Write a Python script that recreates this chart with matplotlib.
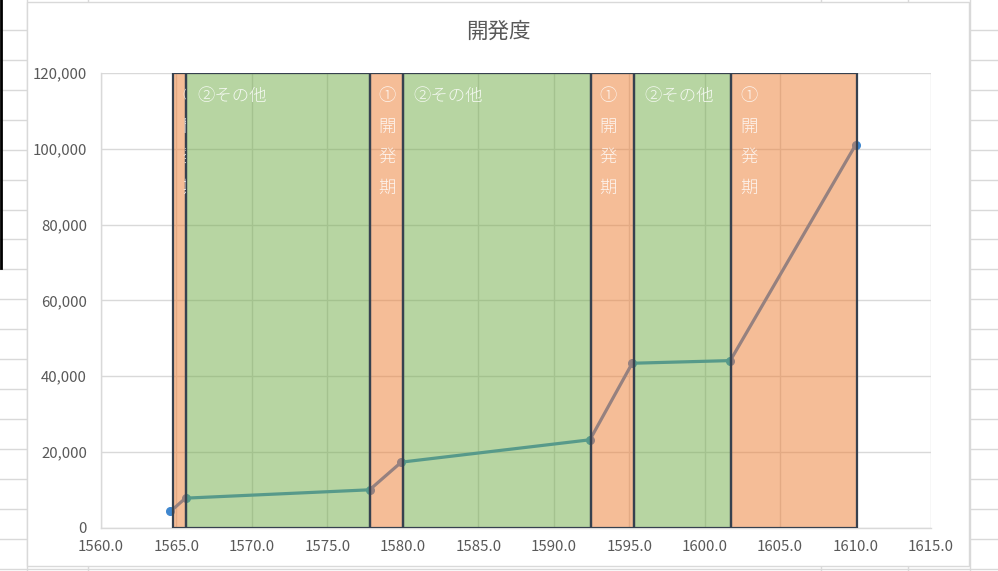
import numpy as np
import matplotlib.pyplot as plt
from matplotlib.patches import Rectangle

plt.rcParams['font.family'] = ['Noto Sans CJK JP', 'DejaVu Sans']

# line data (year, value)
years = [1564.6, 1565.6, 1577.8, 1579.9, 1592.4, 1595.2, 1601.7, 1610.0]
values = [4300, 7800, 10000, 17300, 23200, 43400, 44100, 101000]

# background bands: edges in years and their kind
band_edges = [1564.8, 1565.65, 1577.8, 1580.0, 1592.45, 1595.3, 1601.75, 1610.1]
band_kind = ["dev", "other", "dev", "other", "dev", "other", "dev"]
band_top = 120000

title = "開発度"
dev_label = ["①", "開", "発", "期"]
other_label = "②その他"

W, H = 998, 571
DPI = 100

ORANGE = "#ED7D31"
GREEN = "#70AD47"
BLUE = "#3F87CF"
EDGE = "#36414F"
GRID = "#D9D9D9"
TXT = "#595959"

fig = plt.figure(figsize=(W / DPI, H / DPI), dpi=DPI)

# spreadsheet backdrop in pixel coords
bg = fig.add_axes([0, 0, 1, 1])
bg.set_xlim(0, W)
bg.set_ylim(H, 0)
bg.axis("off")
for k in range(1, 20):
    bg.plot([0, W], [k * 29.93, k * 29.93], color=GRID, lw=1.0, zorder=1)
for x in [27, 88, 820.7, 908.3, 970.5]:
    bg.plot([x, x], [0, H], color=GRID, lw=1.0, zorder=1)
bg.plot([1, 1], [0, 268], color="black", lw=2.0, zorder=1)
bg.add_patch(Rectangle((27.5, 1.5), 942, 564, facecolor="white", edgecolor=GRID,
                       lw=1.0, zorder=3))
bg.text(498, 32, title, ha="center", va="center", fontsize=15.5, color=TXT, zorder=4)

# plot area
x0, x1, ytop, ybot = 101, 931, 73, 527.7
ax = fig.add_axes([x0 / W, 1 - ybot / H, (x1 - x0) / W, (ybot - ytop) / H])
ax.set_xlim(1560, 1615)
ax.set_ylim(0, 120000)
ax.set_xticks(np.arange(1560, 1616, 5))
ax.set_yticks(np.arange(0, 120001, 20000))
ax.set_xticklabels([f"{v:.1f}" for v in np.arange(1560, 1616, 5)])
ax.set_yticklabels([f"{v:,}" for v in range(0, 120001, 20000)])
ax.tick_params(length=0, colors=TXT, labelsize=10.8)
ax.tick_params(axis="x", pad=9)
ax.tick_params(axis="y", pad=10)
ax.grid(True, color=GRID, lw=1.0)
ax.set_axisbelow(True)
for s in ["top", "right"]:
    ax.spines[s].set_visible(False)
for s in ["left", "bottom"]:
    ax.spines[s].set_color(GRID)
    ax.spines[s].set_linewidth(1.0)

ax.plot(years, values, color=BLUE, lw=2.3, marker="o", ms=5.5, zorder=2, clip_on=False)

for i, kind in enumerate(band_kind):
    left, right = band_edges[i], band_edges[i + 1]
    color = ORANGE if kind == "dev" else GREEN
    fill = Rectangle((left, 0), right - left, band_top, facecolor=color, alpha=0.5,
                     edgecolor="none", zorder=3)
    ax.add_patch(fill)
    border = Rectangle((left, 0), right - left, band_top, facecolor="none",
                       edgecolor=EDGE, lw=1.6, zorder=4)
    ax.add_patch(border)
    if kind == "dev":
        for j, ch in enumerate(dev_label):
            t = ax.annotate(ch, xy=(left, band_top), xytext=(9, -23 - 30.5 * j),
                            textcoords="offset pixels", ha="left", va="center",
                            fontsize=12.5, fontweight="light", color="white",
                            alpha=0.85, zorder=5)
            t.set_clip_path(fill)
    else:
        t = ax.annotate(other_label, xy=(left, band_top), xytext=(11, -23),
                        textcoords="offset pixels", ha="left", va="center",
                        fontsize=12.5, fontweight="light", color="white",
                        alpha=0.85, zorder=5)
        t.set_clip_path(fill)

fig.savefig("out.png", dpi=DPI)
